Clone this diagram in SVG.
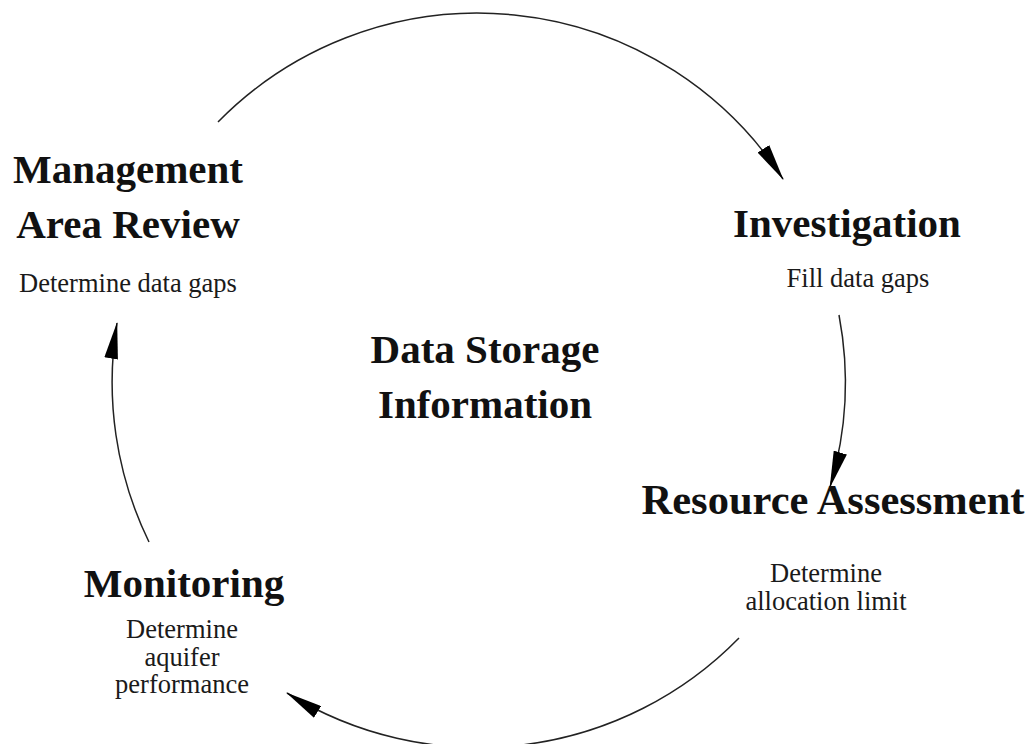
<svg xmlns="http://www.w3.org/2000/svg" width="1031" height="744" viewBox="0 0 1031 744">
  <style>
    .title { font-family: "Liberation Serif", "Times New Roman", serif; font-weight: bold; font-size: 41px; fill: #111; text-anchor: middle; }
    .wide { font-size: 42.5px; }
    .note { font-family: "Liberation Serif", "Times New Roman", serif; font-size: 26.5px; fill: #1a1a1a; text-anchor: middle; }
    .flow { fill: none; stroke: #222; stroke-width: 1.5; marker-end: url(#head); }
  </style>
  <defs>
    <marker id="head" markerUnits="userSpaceOnUse" markerWidth="37" markerHeight="14" viewBox="0 0 35 13" refX="34" refY="6.5" orient="auto">
      <path d="M0,0 L35,6.5 L0,13 Z" fill="#000"/>
    </marker>
  </defs>
  <rect width="1031" height="744" fill="#fff"/>

  <!-- cycle connectors along a circle around the centre label -->
  <g id="connectors">
    <path class="flow" d="M218,122 A364,364 0 0 1 783,179"/>
    <path class="flow" d="M839,315 A364,364 0 0 1 830,487"/>
    <path class="flow" d="M739,638 A364,364 0 0 1 287,693"/>
    <path class="flow" d="M149,542 A364,364 0 0 1 117,323"/>
  </g>

  <g id="center">
    <text class="title" x="485" y="363">Data Storage</text>
    <text class="title" x="485" y="418">Information</text>
  </g>

  <g id="management-area-review">
    <text class="title" x="128" y="183">Management</text>
    <text class="title" x="128" y="238">Area Review</text>
    <text class="note" x="128" y="292">Determine data gaps</text>
  </g>

  <g id="investigation">
    <text class="title" x="847" y="237">Investigation</text>
    <text class="note" x="858" y="287">Fill data gaps</text>
  </g>

  <g id="resource-assessment">
    <text class="title wide" x="833" y="514">Resource Assessment</text>
    <text class="note" x="826" y="582">Determine</text>
    <text class="note" x="826" y="610">allocation limit</text>
  </g>

  <g id="monitoring">
    <text class="title" x="184" y="597">Monitoring</text>
    <text class="note" x="182" y="638">Determine</text>
    <text class="note" x="182" y="666">aquifer</text>
    <text class="note" x="182" y="693">performance</text>
  </g>
</svg>
